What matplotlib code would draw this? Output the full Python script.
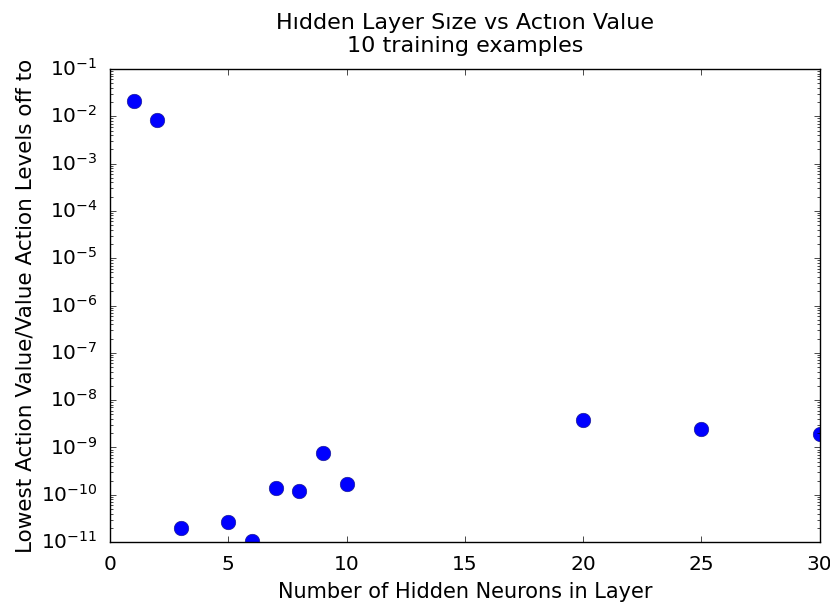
import matplotlib
matplotlib.use('Agg')
import matplotlib.pyplot as plt

# hidden layer sizes and the lowest action value gap found for each
hidden_sizes = [1, 2, 3, 5, 6, 7, 8, 9, 10, 20, 25, 30]
lowest_gap = [2.1e-2, 8.4e-3, 1.95e-11, 2.6e-11, 1.05e-11, 1.36e-10,
              1.23e-10, 7.8e-10, 1.65e-10, 3.75e-9, 2.42e-9, 1.9e-9]

plt.style.use('classic')
plt.rcParams['font.size'] = 14.5

fig = plt.figure(figsize=(8.3, 6.05), dpi=100, facecolor='white')
ax = fig.add_axes([0.1325, 0.104, 0.855, 0.782])

ax.plot(hidden_sizes, lowest_gap, 'o', color='#0000ff', markersize=10.5,
        markeredgecolor='#1a1a80', markeredgewidth=0.4)
ax.set_yscale('log')
ax.set_xlim(0, 30)
ax.set_ylim(1e-11, 1e-1)
ax.tick_params(axis='both', which='major', pad=9)

ax.set_title('H\u0131dden Layer S\u0131ze vs Act\u0131on Value\n10 training examples',
             fontsize=16, pad=12)
ax.set_xlabel('Number of Hidden Neurons in Layer', fontsize=15, labelpad=6)
ax.set_ylabel('Lowest Action Value/Value Action Levels off to', fontsize=15.5,
              labelpad=4)

fig.savefig('out.png', dpi=100, facecolor='white')
